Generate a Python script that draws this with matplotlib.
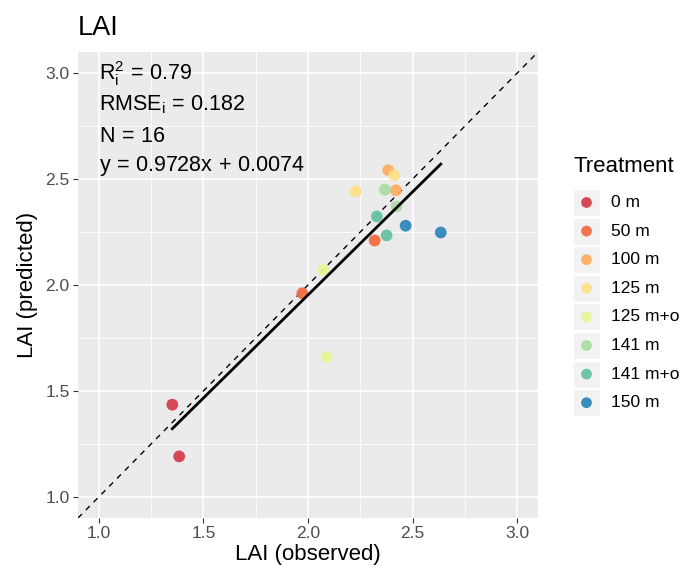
import matplotlib
matplotlib.use("Agg")
import matplotlib.pyplot as plt
from matplotlib.patches import Rectangle
import numpy as np

plt.rcParams['font.family'] = ['Liberation Sans', 'DejaVu Sans']
plt.rcParams['mathtext.fontset'] = 'custom'
plt.rcParams['mathtext.rm'] = 'Liberation Sans'
plt.rcParams['mathtext.it'] = 'Liberation Sans'
plt.rcParams['mathtext.bf'] = 'Liberation Sans:bold'

# data
treatments = ['0 m', '50 m', '100 m', '125 m', '125 m+o', '141 m', '141 m+o', '150 m']
palette = ['#D53E4F', '#F46D43', '#FDAE61', '#FEE08B', '#E6F598', '#ABDDA4', '#66C2A5', '#3288BD']

point_treatment = ['0 m', '0 m', '50 m', '50 m', '100 m', '100 m', '125 m', '125 m',
                   '125 m+o', '125 m+o', '141 m', '141 m', '141 m+o', '141 m+o', '150 m', '150 m']
observed = [1.351, 1.384, 1.973, 2.319, 2.384, 2.420, 2.413, 2.228,
            2.073, 2.089, 2.368, 2.424, 2.329, 2.376, 2.467, 2.635]
predicted = [1.435, 1.191, 1.961, 2.210, 2.542, 2.447, 2.518, 2.442,
             2.071, 1.660, 2.450, 2.371, 2.324, 2.234, 2.280, 2.248]

slope = 0.9728
intercept = 0.0074
stats_lines = [r'$\mathrm{R_i^2}\,=\,0.79$', r'$\mathrm{RMSE_i}\,=\,0.182$', r'$\mathrm{N}\,=\,16$',
               r'$y\,=\,0.9728x\,+\,0.0074$']
stats_y = [3.0, 2.85, 2.70, 2.56]
ticks = [1.0, 1.5, 2.0, 2.5, 3.0]

W, H = 683, 574
fig = plt.figure(figsize=(W / 100, H / 100), dpi=100)
fig.patch.set_facecolor('white')
ax = fig.add_axes([78 / W, 1 - 518 / H, 460 / W, 466 / H])
ax.set_facecolor('#EBEBEB')
ax.set_xlim(0.9, 3.1)
ax.set_ylim(0.9, 3.1)

# grid
for v in np.arange(1.25, 3.1, 0.5):
    ax.axvline(v, color='white', lw=0.6, zorder=0)
    ax.axhline(v, color='white', lw=0.6, zorder=0)
for v in ticks:
    ax.axvline(v, color='white', lw=1.2, zorder=0)
    ax.axhline(v, color='white', lw=1.2, zorder=0)
for s in ax.spines.values():
    s.set_visible(False)

ax.set_xticks(ticks)
ax.set_yticks(ticks)
ax.set_xticklabels([f'{t:.1f}' for t in ticks])
ax.set_yticklabels([f'{t:.1f}' for t in ticks])
ax.tick_params(length=3.5, width=0.8, color='#333333', labelcolor='#4D4D4D',
               labelsize=12.5, pad=2.5)

# 1:1 line
ax.plot([0.9, 3.1], [0.9, 3.1], color='black', lw=1.0, ls=(0, (4, 4)), zorder=2)

# points
cmap = dict(zip(treatments, palette))
ax.scatter(observed, predicted, s=72, c=[cmap[t] for t in point_treatment],
           alpha=0.95, edgecolors='none', zorder=3)

# fit line
xs = np.array([min(observed), max(observed)])
ax.plot(xs, slope * xs + intercept, color='black', lw=2.0, zorder=4)

for txt, yy in zip(stats_lines, stats_y):
    ax.text(1.0, yy, txt, fontsize=15.5, ha='left', va='center', color='black', zorder=5)

ax.set_xlabel('LAI (observed)', fontsize=16, labelpad=2)
ax.set_ylabel('LAI (predicted)', fontsize=16, labelpad=5)
fig.text(78 / W, 1 - 28 / H, 'LAI', fontsize=19.5, ha='left', va='center')

# legend
fig.text(573 / W, 1 - 167 / H, 'Treatment', fontsize=16, ha='left', va='center')
lax = fig.add_axes([0, 0, 1, 1], facecolor='none')
lax.set_xlim(0, W)
lax.set_ylim(H, 0)
lax.axis('off')
for i, (t, c) in enumerate(zip(treatments, palette)):
    cy = 202.5 + i * 28.6
    lax.add_patch(Rectangle((573, cy - 13.5), 27, 27, facecolor='#F2F2F2',
                            edgecolor='white', lw=1))
    lax.scatter([586.5], [cy], s=60, color=c, edgecolors='none', alpha=0.95)
    lax.text(611, cy, t, fontsize=12.5, ha='left', va='center')

fig.savefig('out.png', dpi=100)
